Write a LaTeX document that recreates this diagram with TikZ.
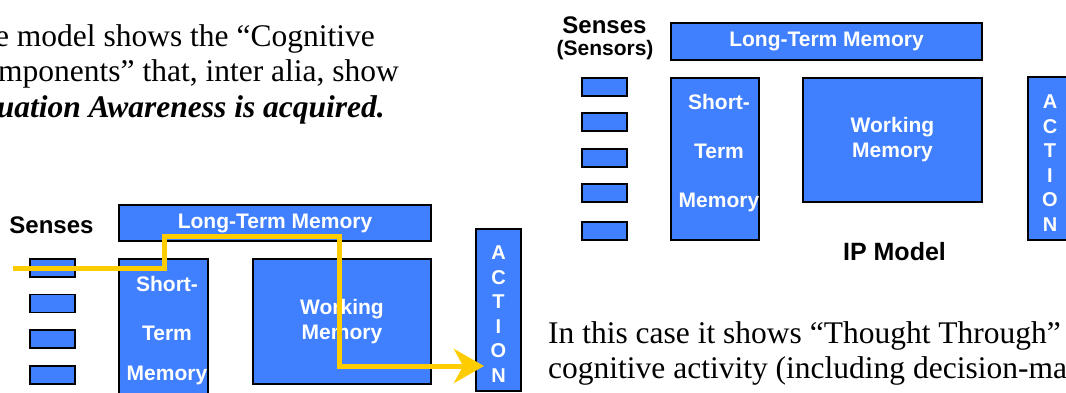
\documentclass[tikz,border=0pt]{standalone}
\usepackage{fontspec}
\setmainfont{Liberation Serif}
\setsansfont{Liberation Sans}
\usetikzlibrary{arrows.meta,positioning}
\definecolor{ipblue}{RGB}{64,128,255}
\definecolor{ipyellow}{RGB}{255,204,0}
\tikzset
{
    membox/.style   = {draw=black, line width=1.8pt, fill=ipblue, anchor=north west, inner sep=0pt, outer sep=0pt, text=white, align=center, font=\sffamily\bfseries\fontsize{21}{25}\selectfont},
    sensebox/.style = {membox, minimum width=45pt, minimum height=18pt},
    stmtext/.style  = {text=white, align=center, inner sep=0pt, anchor=north, font=\sffamily\bfseries\fontsize{21}{49}\selectfont},
    acttext/.style  = {text=white, align=center, inner sep=0pt, anchor=north, font=\sffamily\bfseries\fontsize{20}{24.5}\selectfont},
    headtext/.style = {inner sep=0pt, font=\sffamily\bfseries\fontsize{24}{28}\selectfont},
    bodytext/.style = {inner sep=0pt, anchor=base west, font=\fontsize{31.5}{35}\selectfont},
    flow/.style     = {draw=ipyellow, line width=5pt, -{Stealth[length=30pt,width=34pt,inset=9pt]}}
}
\begin{document}
\begin{tikzpicture}[x=1pt, y=-1pt]
    \useasboundingbox (0,0) rectangle (1066,392);
    \clip (0,0) rectangle (1066,392);

    % text round the pictures
    \node [bodytext, anchor=base east] (introA) at (375,46) {e model shows the “Cognitive};
    \node [bodytext, anchor=base east] (introB) at (399,81.5) {mponents” that, inter alia, show};
    \node [bodytext, anchor=base east, font=\bfseries\itshape\fontsize{31.5}{35}\selectfont] (introC) at (385,117) {uation Awareness is acquired.};
    \node [bodytext] (noteA) at (548,343) {In this case it shows “Thought Through”};
    \node [bodytext] (noteB) at (548,378) {cognitive activity (including decision-ma};

    % left model
    \node [headtext] (sensesL) at (51.5,225) {Senses};
    \node [membox, minimum width=312pt, minimum height=36pt] (ltmL) at (119,205) {Long-Term Memory};
    \node [sensebox] (senseLa) at (30,259) {};
    \node [sensebox] (senseLb) at (30,294.5) {};
    \node [sensebox] (senseLc) at (30,330) {};
    \node [sensebox] (senseLd) at (30,366) {};
    \node [membox, minimum width=89pt, minimum height=160pt] (stmL) at (119,259) {};
    \node [stmtext] (stmLtext) at (167,276.5) {Short-\\Term\\[-9pt]Memory};
    \node [membox, minimum width=178pt, minimum height=125pt] (wmL) at (253,259) {Working\\Memory};
    \node [membox, minimum width=45pt, minimum height=162pt] (actL) at (476,229) {};
    \node [acttext] (actLtext) at (498.5,246) {A\\C\\T\\I\\O\\N};

    % right model
    \node [headtext] (sensesR) at (604.5,25) {Senses};
    \node [headtext, font=\sffamily\bfseries\fontsize{21}{25}\selectfont] (sensorsR) at (605,50) {(Sensors)};
    \node [membox, minimum width=311pt, minimum height=37pt] (ltmR) at (671,23) {Long-Term Memory};
    \node [sensebox] (senseRa) at (582,78) {};
    \node [sensebox] (senseRb) at (582,113) {};
    \node [sensebox] (senseRc) at (582,149) {};
    \node [sensebox] (senseRd) at (582,184) {};
    \node [sensebox] (senseRe) at (582,222) {};
    \node [membox, minimum width=88pt, minimum height=162pt] (stmR) at (671,78) {};
    \node [stmtext] (stmRtext) at (719,94.5) {Short-\\Term\\Memory};
    \node [membox, minimum width=179pt, minimum height=124pt] (wmR) at (803,78) {Working\\Memory};
    \node [membox, minimum width=45pt, minimum height=163pt] (actR) at (1028,77) {};
    \node [acttext] (actRtext) at (1050,95) {A\\C\\T\\I\\O\\N};
    \node [headtext, font=\sffamily\bfseries\fontsize{25}{29}\selectfont] (ipmodel) at (894.5,252) {IP Model};

    % thought through path
    \coordinate (senseIn) at (13,268.5);
    \draw [flow, shorten >=-8pt] (senseIn) -- (164.5,268.5) -- (164.5,236.5) -- (339.5,236.5) -- (339.5,366) -- (actL.west |- 0,366);
\end{tikzpicture}
\end{document}
